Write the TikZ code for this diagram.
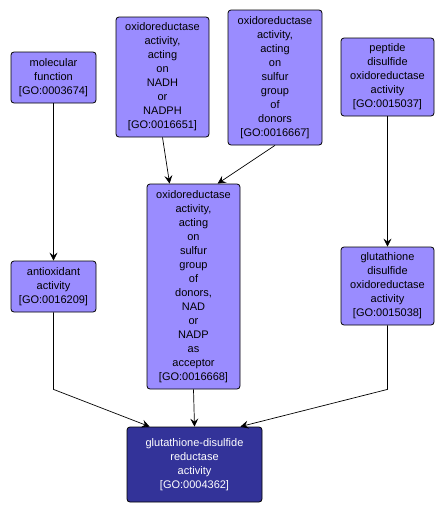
\documentclass[tikz,border=0pt]{standalone}
\usepackage{fontspec}
\setmainfont{Liberation Sans}
\usetikzlibrary{arrows.meta,calc}
\definecolor{gofill}{HTML}{9A8CFF}
\definecolor{gomain}{HTML}{333399}
\tikzset{
  gobox/.style={draw=black, fill=gofill, rounded corners=3pt, align=center, inner sep=0pt,
    font=\fontsize{11}{14}\selectfont, line width=0.8pt},
  mainbox/.style={gobox, fill=gomain, text=white},
  arr/.style={-{Stealth[length=8pt,width=8pt,inset=3pt]}, line width=0.7pt}
}
\begin{document}
\begin{tikzpicture}[x=1pt,y=-1pt]
\useasboundingbox (0,0) rectangle (445,514);
\node[gobox, minimum width=85pt, minimum height=51pt] (mf) at (53.5,77.5) {molecular\\function\\{[GO:0003674]}};
\node[gobox, minimum width=93pt, minimum height=120pt] (nadh) at (162.5,77) {oxidoreductase\\activity,\\acting\\on\\NADH\\or\\NADPH\\{[GO:0016651]}};
\node[gobox, minimum width=94pt, minimum height=135pt] (sd) at (275,77.5) {oxidoreductase\\activity,\\acting\\on\\sulfur\\group\\of\\donors\\{[GO:0016667]}};
\node[gobox, minimum width=93pt, minimum height=78pt] (pep) at (387.5,77) {peptide\\disulfide\\oxidoreductase\\activity\\{[GO:0015037]}};
\node[gobox, minimum width=85pt, minimum height=51pt] (anti) at (53.5,286.5) {antioxidant\\activity\\{[GO:0016209]}};
\node[gobox, minimum width=93pt, minimum height=205pt] (nad) at (193.5,286.5) {oxidoreductase\\activity,\\acting\\on\\sulfur\\group\\of\\donors,\\NAD\\or\\NADP\\as\\acceptor\\{[GO:0016668]}};
\node[gobox, minimum width=93pt, minimum height=78pt] (glut) at (387.5,286) {glutathione\\disulfide\\oxidoreductase\\activity\\{[GO:0015038]}};
\node[mainbox, minimum width=135pt, minimum height=75pt] (bot) at (194.5,464.5) {glutathione-disulfide\\reductase\\activity\\{[GO:0004362]}};
\draw[arr] (mf.south) -- (anti.north);
\draw[arr] (nadh.south) -- ($(nad.north west)+(23,0)$);
\draw[arr] (sd.south) -- ($(nad.north west)+(71,0)$);
\draw[arr] (pep.south) -- (glut.north);
\draw[arr] (anti.south) -- ++(0,77) -- ($(bot.north west)+(23,0)$);
\draw[arr] (nad.south) -- (bot.north);
\draw[arr] (glut.south) -- ++(0,64) -- ($(bot.north east)+(-22,0)$);
\end{tikzpicture}
\end{document}
